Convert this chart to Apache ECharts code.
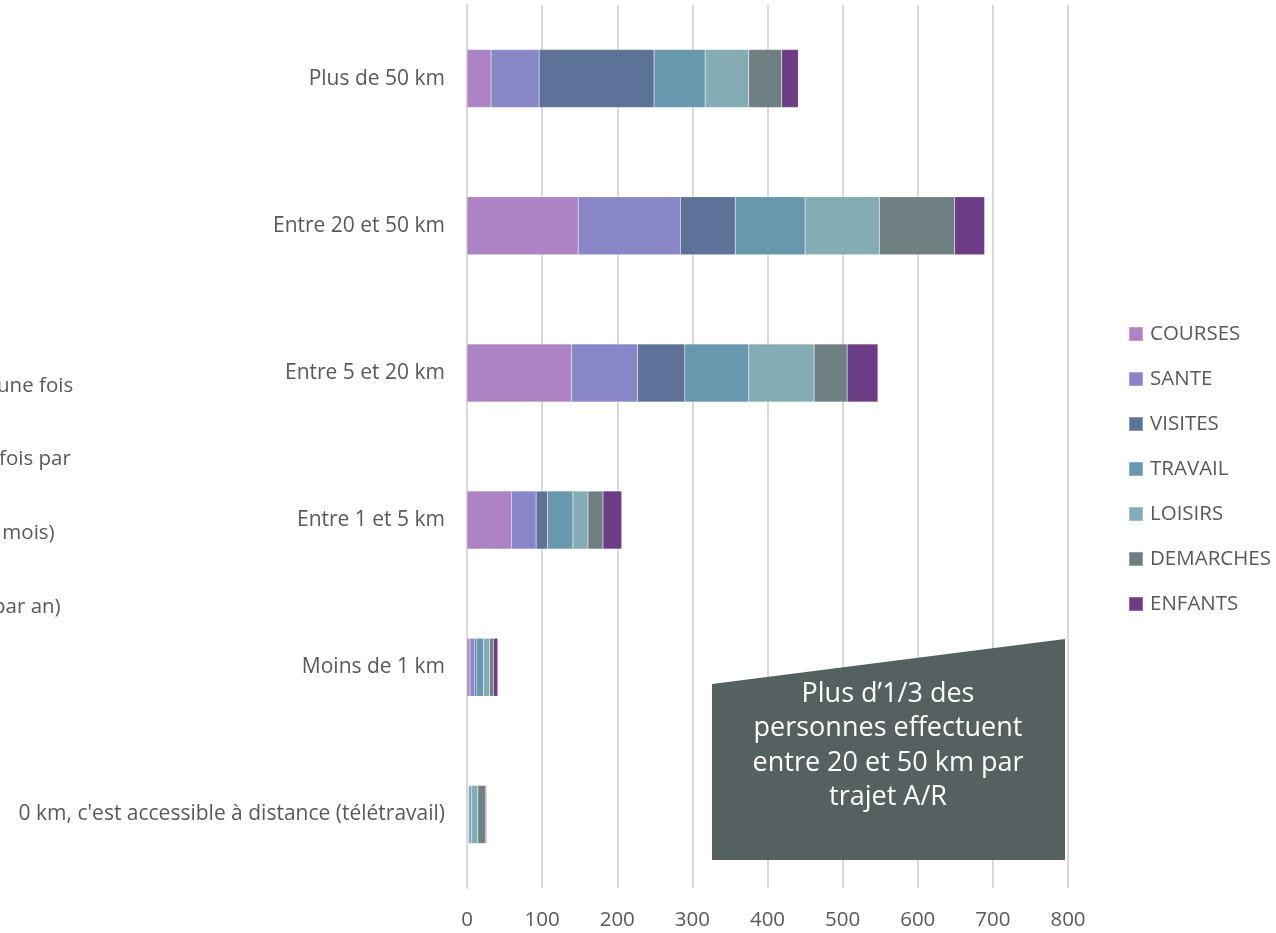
<!DOCTYPE html>
<html><head><meta charset="utf-8">
<script src="https://cdn.jsdelivr.net/npm/echarts@6/dist/echarts.min.js"></script>
<style>html,body{margin:0;padding:0;background:#fff}#c{width:1276px;height:933px}</style>
</head><body><div id="c"></div>
<script>
const categories = ["0 km, c'est accessible à distance (télétravail)", "Moins de 1 km", "Entre 1 et 5 km", "Entre 5 et 20 km", "Entre 20 et 50 km", "Plus de 50 km"];
const seriesNames = ["COURSES", "SANTE", "VISITES", "TRAVAIL", "LOISIRS", "DEMARCHES", "ENFANTS"];
const courses   = [0.5, 4, 59, 139, 148, 32];
const sante     = [1, 6, 33, 88, 136, 64];
const visites   = [1, 3, 15, 63, 73, 153];
const travail   = [3, 9, 34, 85, 93, 68];
const loisirs   = [9, 8, 20, 87, 99, 58];
const demarches = [10, 5, 20, 44, 100, 44];
const enfants   = [1.5, 6, 25, 41, 40, 22];
const xTicks = [0, 100, 200, 300, 400, 500, 600, 700, 800];
const colors = ["#AE83C3", "#8786C6", "#5E7197", "#6898AE", "#84ACB4", "#6E8082", "#6C3D86"];
const annotationLines = ["Plus d\u20191/3 des", "personnes effectuent", "entre 20 et 50 km par", "trajet A/R"];
const leftFragments = ["une fois", "fois par", " mois)", "par an)"];

const allData = [courses, sante, visites, travail, loisirs, demarches, enfants];
const FONT = "'Open Sans', 'Liberation Sans', sans-serif";
const FS = 20.5;
const chart = echarts.init(document.getElementById('c'));
const fragY = [390, 463, 537, 611];
const fragLeft = [-3, -1, -3, -7];
const graphics = leftFragments.map((t, i) => ({
  type: 'text', left: fragLeft[i], top: fragY[i] - 14,
  style: {text: t, font: FS + 'px ' + FONT, fill: '#595959'}
}));
graphics.push({
  type: 'polygon', z: 100,
  shape: {points: [[712, 684], [1065, 639], [1065, 860], [712, 860]]},
  style: {fill: '#546160'}
});
graphics.push({
  type: 'text', z: 101, x: 888, y: 677,
  style: {text: annotationLines.join('\n'), font: '27px ' + FONT, fill: '#ffffff', align: 'center', lineHeight: 34.5}
});

chart.setOption({
  animation: false,
  textStyle: {fontFamily: FONT},
  color: colors,
  grid: {left: 467, right: 208, top: 5, bottom: 45, containLabel: false},
  legend: {
    orient: 'vertical', left: 1123, top: 317,
    itemWidth: 14, itemHeight: 14, itemGap: 21, icon: 'rect',
    textStyle: {fontSize: FS, color: '#595959', fontFamily: FONT, lineHeight: 24, padding: [0,0,0,2]},
    data: seriesNames
  },
  xAxis: {
    type: 'value', min: 0, max: 800, interval: 100,
    axisLine: {show: false}, axisTick: {show: false},
    axisLabel: {fontSize: FS, color: '#595959', margin: 22,
      formatter: v => xTicks.includes(v) ? String(v) : ''},
    splitLine: {lineStyle: {color: '#d9d9d9', width: 2}}
  },
  yAxis: {
    type: 'category', data: categories,
    axisLine: {show: true, lineStyle: {color: '#d9d9d9', width: 2}}, axisTick: {show: false},
    axisLabel: {fontSize: 21, color: '#595959', margin: 22}
  },
  series: seriesNames.map((n, i) => ({
    name: n, type: 'bar', stack: 'total', barWidth: 58,
    data: allData[i],
    itemStyle: {color: colors[i], borderColor: 'rgba(255,255,255,0.25)', borderWidth: 0.5}
  })),
  graphic: graphics
});
</script></body></html>
